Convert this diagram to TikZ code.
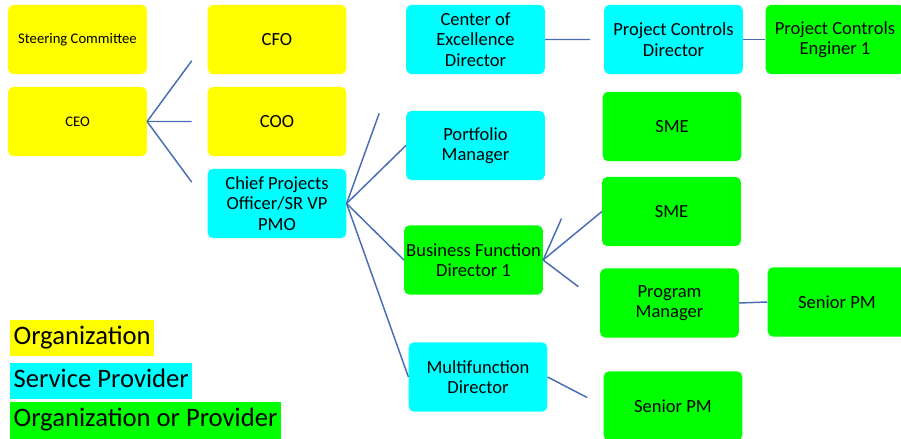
\documentclass[tikz,border=0pt]{standalone}
\usepackage{fontspec}
\setmainfont{Carlito}
\usetikzlibrary{positioning, calc}

\definecolor{orgyellow}{RGB}{255,255,0}
\definecolor{provcyan}{RGB}{0,255,255}
\definecolor{mixgreen}{RGB}{0,255,0}
\definecolor{linkblue}{RGB}{72,108,182}

\begin{document}
\begin{tikzpicture}[x=0.75pt, y=-0.75pt,
  box/.style={rectangle, rounded corners=4pt, minimum width=104pt, minimum height=52pt,
    inner sep=1pt, align=center, font=\fontsize{13.9}{15.5}\selectfont},
  org/.style={box, fill=orgyellow},
  prov/.style={box, fill=provcyan},
  mixed/.style={box, fill=mixgreen},
  link/.style={draw=linkblue, line width=1.1pt},
  key/.style={anchor=west, inner xsep=2.5pt, inner ysep=4.5pt, text height=14pt,
    text depth=4.5pt, font=\fontsize{20}{24}\selectfont}]
\useasboundingbox (0,0) rectangle (901,439);

% executives
\node[org, font=\fontsize{11}{13}\selectfont] (steer) at (77.5,39.5) {Steering Committee};
\node[org, font=\fontsize{11}{13}\selectfont] (ceo) at (77.5,121.5) {CEO};
\node[org] (cfo) at (277,39.5) {CFO};
\node[org] (coo) at (277,121.5) {COO};
\node[prov] (cpo) at (277,203.5) {Chief Projects\\Officer/SR VP\\PMO};

% directors
\node[prov] (coe) at (475.5,39.5) {Center of\\Excellence\\Director};
\node[prov] (port) at (475.5,145.5) {Portfolio\\Manager};
\node[mixed] (bfd) at (473.5,260) {Business Function\\Director 1};
\node[prov] (mfd) at (478,377) {Multifunction\\Director};

% staff
\node[prov] (pcd) at (673.5,39.5) {Project Controls\\Director};
\node[mixed] (pce) at (835,39.5) {Project Controls\\Enginer 1};
\node[mixed] (sme1) at (672,126.5) {SME};
\node[mixed] (sme2) at (671.5,211.5) {SME};
\node[mixed] (pm) at (669.5,303) {Program\\Manager};
\node[mixed] (spmA) at (837,302) {Senior PM};
\node[mixed] (spmB) at (673,406) {Senior PM};

% reporting lines (some stop short of the box)
\foreach \child in {cfo,coo,cpo}
  \draw[link] (ceo.east) -- ($(ceo.east)!0.74!(\child.west)$);
\draw[link] (cpo.east) -- ($(cpo.east)!0.55!(coe.west)$);
\foreach \child in {port,bfd,mfd}
  \draw[link] (cpo.east) -- (\child.west);
\draw[link] (coe.east) -- ($(coe.east)!0.76!(pcd.west)$);
\draw[link] (pcd.east) -- (pce.west);
\draw[link] (bfd.east) -- ($(bfd.east)!0.31!(sme1.west)$);
\draw[link] (bfd.east) -- (sme2.west);
\draw[link] (bfd.east) -- ($(bfd.east)!0.62!(pm.west)$);
\draw[link] (pm.east) -- (spmA.west);
\draw[link] (mfd.east) -- ($(mfd.east)!0.71!(spmB.west)$);

% legend
\node[key, fill=orgyellow] (keyorg) at (10,338) {Organization};
\node[key, fill=provcyan] (keyprov) at (10,381) {Service Provider};
\node[key, fill=mixgreen] (keymix) at (10,420.5) {Organization or Provider};
\end{tikzpicture}
\end{document}
